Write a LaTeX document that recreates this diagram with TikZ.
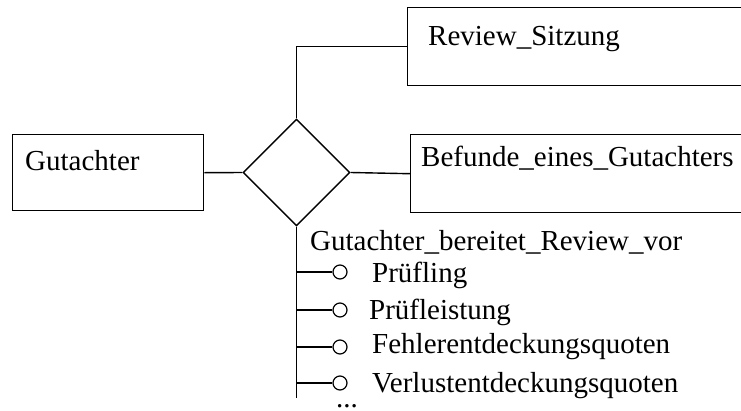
\documentclass[tikz,border=0pt]{standalone}
\usepackage{fontspec}
\setmainfont{Liberation Serif}
\usetikzlibrary{shapes.geometric}
\tikzset{
  entbox/.style={draw,rectangle,line width=1.4pt,inner sep=0pt,anchor=north west},
  relbox/.style={draw,diamond,line width=1.4pt,minimum size=107pt,inner sep=0pt},
  attrdot/.style={draw,circle,line width=1.2pt,minimum size=14pt,inner sep=0pt},
  lbl/.style={font=\fontsize{29}{34}\selectfont,inner sep=0pt,anchor=base west},
  conn/.style={line width=1.4pt}
}
\begin{document}
\begin{tikzpicture}[x=1pt,y=-1pt]
  \useasboundingbox (0,0) rectangle (741,410);
  % entities and relationship
  \node[entbox,minimum width=191pt,minimum height=76pt] (gut) at (12,134) {};
  \node[lbl] (gutt) at (25,170) {Gutachter};
  \node[relbox] (rel) at (296.5,172.5) {};
  \node[entbox,minimum width=345pt,minimum height=78pt] (rev) at (407,7) {};
  \node[lbl] (revt) at (428,45) {Review\_Sitzung};
  \node[entbox,minimum width=345pt,minimum height=78pt] (bef) at (410,134) {};
  \node[lbl] (beft) at (421,166) {Befunde\_eines\_Gutachters};

  \draw[conn] (gut.east) -- (rel.west);
  \draw[conn] (rel.east) -- (bef.west);
  \draw[conn] (rel.north) |- (rev.west);

  % attributes of the relationship
  \node[lbl] (relt) at (310,250) {Gutachter\_bereitet\_Review\_vor};
  \coordinate (trunk) at (296.5,398);
  \draw[conn] (rel.south) -- (trunk);
  \foreach \i/\yc/\yb/\xt/\txt in {1/272/282/372/Prüfling,2/310/319/369/Prüfleistung,3/347/353/372/Fehlerentdeckungsquoten,4/383/392/372/Verlustentdeckungsquoten}{
    \node[attrdot] (a\i) at (340,\yc) {};
    \node[lbl] (t\i) at (\xt,\yb) {\txt};
    \draw[conn] (rel.south |- a\i.west) -- (a\i.west);
  }
  \node[lbl] (more) at (336,407) {...};
\end{tikzpicture}
\end{document}
